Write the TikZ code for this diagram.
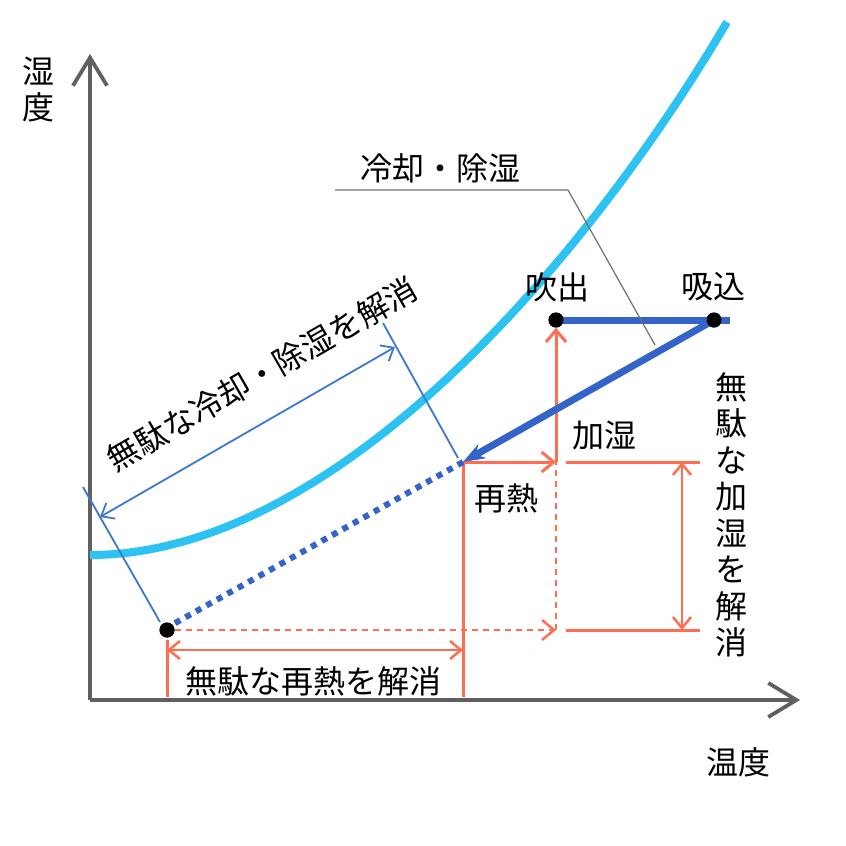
\documentclass[tikz,border=0pt]{standalone}
\usepackage{fontspec}
\setmainfont{Noto Sans CJK JP}
\usetikzlibrary{arrows.meta}

\begin{document}
\begin{tikzpicture}[
    x=1pt, y=-1pt,
    every node/.style={font=\fontsize{32}{36}\selectfont, inner sep=0pt},
    axis/.style={
        draw=axisgray,
        line width=3.8pt,
        -{Straight Barb[length=28pt, width=34pt]},
    },
    dot/.style={circle, fill=black, minimum size=15pt},
    coolline/.style={draw=coolblue, line width=7pt},
    wasteline/.style={draw=coolblue, line width=6pt, dash pattern=on 6pt off 6pt},
    dimblue/.style={draw=dimblue, line width=1.8pt},
    heat/.style={draw=heatred, line width=3pt},
    heatdash/.style={draw=heatred, line width=2.5pt, dash pattern=on 6pt off 5pt},
    barb/.style={-{Straight Barb[length=12pt, width=20pt]}},
    dbarb/.style={{Straight Barb[length=11pt, width=18pt]}-{Straight Barb[length=11pt, width=18pt]}},
]

% Colors
\definecolor{axisgray}{HTML}{606060}
\definecolor{satcyan}{HTML}{2CC2F2}
\definecolor{coolblue}{HTML}{3464C8}
\definecolor{dimblue}{HTML}{3C78CC}
\definecolor{heatred}{HTML}{FF6E50}
\definecolor{leadgray}{HTML}{707070}

\useasboundingbox (0,0) rectangle (846,846);

% Axes
\coordinate (O) at (90,700);
\coordinate (ytop) at (90,54);
\coordinate (xend) at (800,700);
\draw[axis] (O) -- (ytop);
\draw[axis] (O) -- (xend);
\node (ylab) at (38,90) [align=center] {湿\\度};
\node (xlab) at (738,762) {温度};

% Saturation curve
\coordinate (satA) at (90,555);
\coordinate (satB) at (727,22);
\draw[satcyan, line width=8pt] (satA) .. controls (335,555) and (587,260) .. (satB);

% States
\coordinate (reheat) at (463,462);
\coordinate (ctip) at (730,320);
\coordinate (hum) at (556,462);
\coordinate (hum0) at (556,630);
\node[dot] (fuki) at (556,320) {};
\node[dot] (sui) at (714,320) {};
\node[dot] (low) at (167,630) {};
\node (fukilab) at (557,287) {吹出};
\node (suilab) at (713,287) {吸込};

% Red lines: reheat and humidify
\coordinate (rbot) at (463,697);
\draw[heat] (reheat) -- (rbot);
\draw[heat, barb] (reheat) -- (hum);
\draw[heat, barb] (hum) -- (fuki.south);
\draw[heatdash] (hum0) -- (hum);
\draw[heatdash, barb] (low.east) -- (hum0);
\node (reheatlab) at (506,498) {再熱};
\node (humlab) at (604,436) {加湿};

% Cooling path
\draw[coolline] (fuki.center) -- (ctip);
\draw[coolline, -{Stealth[length=22pt, width=16pt]}] (sui.center) -- (reheat);
\draw[wasteline] (reheat) -- (low.north east);
\node[dot] at (fuki) {};
\node[dot] at (sui) {};
\node[dot] at (low) {};

% Leader for cooling label
\coordinate (leadA) at (335,190);
\coordinate (leadB) at (568,190);
\coordinate (leadC) at (655,345);
\draw[leadgray, line width=1.2pt] (leadA) -- (leadB) -- (leadC);
\node (coollab) at (440,168) {冷却・除湿};

% Wasted cooling dimension
\coordinate (wa1) at (83,487);
\coordinate (wa2) at (160,622);
\coordinate (wb1) at (383,323);
\coordinate (wb2) at (458,458);
\coordinate (wda) at (100,517);
\coordinate (wdb) at (395,347);
\draw[dimblue] (wa1) -- (wa2);
\draw[dimblue] (wb1) -- (wb2);
\draw[dimblue, dbarb] (wda) -- (wdb);
\node[rotate=30] (wcool) at (262,374) {無駄な冷却・除湿を解消};

% Wasted reheat dimension
\coordinate (ra1) at (167,640);
\coordinate (ra2) at (167,697);
\coordinate (rda) at (167,650);
\coordinate (rdb) at (463,650);
\draw[heat] (ra1) -- (ra2);
\draw[heat, line width=2.5pt, dbarb] (rda) -- (rdb);
\node (wheat) at (313,681) {無駄な再熱を解消};

% Wasted humidify dimension
\coordinate (ha1) at (566,462);
\coordinate (ha2) at (700,462);
\coordinate (hb1) at (566,630);
\coordinate (hb2) at (700,630);
\coordinate (hda) at (682,462);
\coordinate (hdb) at (682,630);
\draw[heat] (ha1) -- (ha2);
\draw[heat] (hb1) -- (hb2);
\draw[heat, line width=2.5pt, dbarb] (hda) -- (hdb);
\node[align=center, font=\fontsize{32}{36.5}\selectfont] (whum) at (731,515)
    {無\\駄\\な\\加\\湿\\を\\解\\消};

\end{tikzpicture}
\end{document}
